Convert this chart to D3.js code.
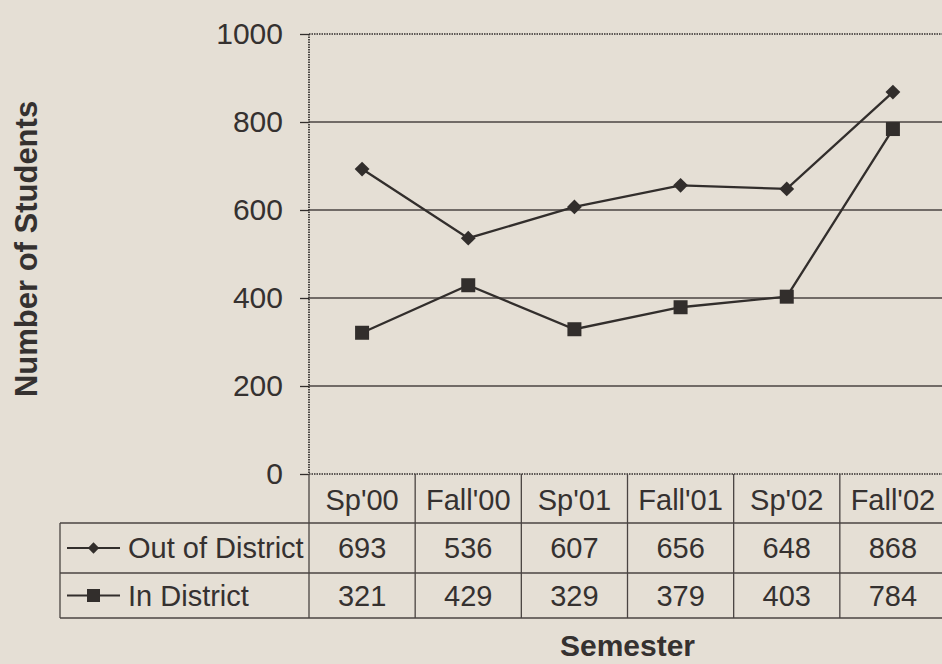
<!DOCTYPE html>
<html><head><meta charset="utf-8">
<script src="https://cdn.jsdelivr.net/npm/d3@7"></script>
<style>
html,body{margin:0;padding:0;background:#e5dfd5;}
svg{display:block;}
text{font-family:"Liberation Sans",Arial,sans-serif;fill:#353130;}
</style></head>
<body>
<svg id="chart" width="942" height="664"></svg>
<script>
const semesters = ["Sp'00","Fall'00","Sp'01","Fall'01","Sp'02","Fall'02"];
const outOfDistrict = [693,536,607,656,648,868];
const inDistrict = [321,429,329,379,403,784];
const yTicks = [0,200,400,600,800,1000];
const seriesNames = ["Out of District","In District"];

(function(){
const svg = d3.select("#chart");
const ink = "#322e2c";
const pLeft = 309, pRight = 946, pTop = 34, pBottom = 474;
const x = d3.scaleBand().domain(semesters).range([pLeft, pRight]).padding(0);
const y = d3.scaleLinear().domain([0,1000]).range([pBottom, pTop]);
const cx = d => x(d) + x.bandwidth()/2;

// gridlines
svg.append("g").selectAll("line").data(yTicks.filter(t => t>0 && t<1000)).join("line")
  .attr("x1", pLeft).attr("x2", pRight).attr("y1", d=>y(d)).attr("y2", d=>y(d))
  .attr("stroke", "#4a4442").attr("stroke-width", 1.3);

// plot border dotted (top, left, bottom)
const dotted = {stroke: ink, "stroke-width": 1.7, "stroke-dasharray": "1.5,1"};
function dl(x1,y1,x2,y2,style){const l=svg.append("line").attr("x1",x1).attr("y1",y1).attr("x2",x2).attr("y2",y2);for(const k in style)l.attr(k,style[k]);return l;}
dl(pLeft, y(1000), pRight, y(1000), dotted);
dl(pLeft, y(1000), pLeft, y(0), dotted);
dl(pLeft, y(0), pRight, y(0), dotted);

// y axis ticks + labels
const yAxis = d3.axisLeft(y).tickValues(yTicks).tickSize(9).tickPadding(17).tickFormat(d3.format("d"));
const ga = svg.append("g").attr("transform", `translate(${pLeft},0)`).call(yAxis);
ga.select(".domain").remove();
ga.selectAll(".tick line").attr("stroke", ink).attr("stroke-width", 1.3);
ga.selectAll(".tick text").attr("font-size", 30).attr("fill", "#353130").attr("font-family", "Liberation Sans, Arial, sans-serif");

// lines
const lineGen = d3.line().x((d,i)=>cx(semesters[i])).y(d=>y(d));
[outOfDistrict, inDistrict].forEach(vals => {
  svg.append("path").datum(vals).attr("d", lineGen).attr("fill","none").attr("stroke", ink).attr("stroke-width", 2.3);
});
// markers
svg.append("g").selectAll("path").data(outOfDistrict).join("path")
  .attr("d", d3.symbol(d3.symbolSquare, 110))
  .attr("transform", (d,i)=>`translate(${cx(semesters[i])},${y(d)}) rotate(45)`)
  .attr("fill", ink);
svg.append("g").selectAll("rect").data(inDistrict).join("rect")
  .attr("x", (d,i)=>cx(semesters[i])-7).attr("y", d=>y(d)-7)
  .attr("width", 14).attr("height", 14).attr("fill", ink);

// data table
const rowTop = [474, 523, 573, 618];
const tl = {stroke: "#4a4442", "stroke-width": 1.3};
const tableLeft = 60;
dl(tableLeft, rowTop[1], pRight, rowTop[1], tl);
dl(tableLeft, rowTop[2], pRight, rowTop[2], tl);
dl(tableLeft, rowTop[3], pRight, rowTop[3], tl);
dl(tableLeft, rowTop[1], tableLeft, rowTop[3], tl);
semesters.forEach(s => dl(x(s), rowTop[0], x(s), rowTop[3], tl));

const fs = 29;
svg.append("g").selectAll("text").data(semesters).join("text")
  .attr("x", d=>cx(d)).attr("y", (rowTop[0]+rowTop[1])/2 + 1).attr("dy","0.35em")
  .attr("text-anchor","middle").attr("font-size", fs).text(d=>d);
[outOfDistrict, inDistrict].forEach((vals, r) => {
  const my = (rowTop[r+1]+rowTop[r+2])/2;
  svg.append("g").selectAll("text").data(vals).join("text")
    .attr("x", (d,i)=>cx(semesters[i])).attr("y", my).attr("dy","0.35em")
    .attr("text-anchor","middle").attr("font-size", fs).text(d=>d);
  dl(67, my, 120, my, {stroke: ink, "stroke-width": 2});
  if (r===0) {
    svg.append("path").attr("d", d3.symbol(d3.symbolSquare, 64)).attr("transform",`translate(93.5,${my}) rotate(45)`).attr("fill", ink);
  } else {
    svg.append("rect").attr("x", 87).attr("y", my-6.5).attr("width", 13).attr("height", 13).attr("fill", ink);
  }
  svg.append("text").attr("x", 128).attr("y", my).attr("dy","0.35em").attr("font-size", fs).text(seriesNames[r]);
});

// axis titles
svg.append("text").attr("x", (pLeft+pRight)/2).attr("y", 656).attr("text-anchor","middle")
  .attr("font-size", 30).attr("font-weight","bold").text("Semester");
svg.append("text").attr("transform", "translate(37,249) rotate(-90)").attr("text-anchor","middle")
  .attr("font-size", 31).attr("font-weight","bold").text("Number of Students");
})();
</script>
</body></html>
